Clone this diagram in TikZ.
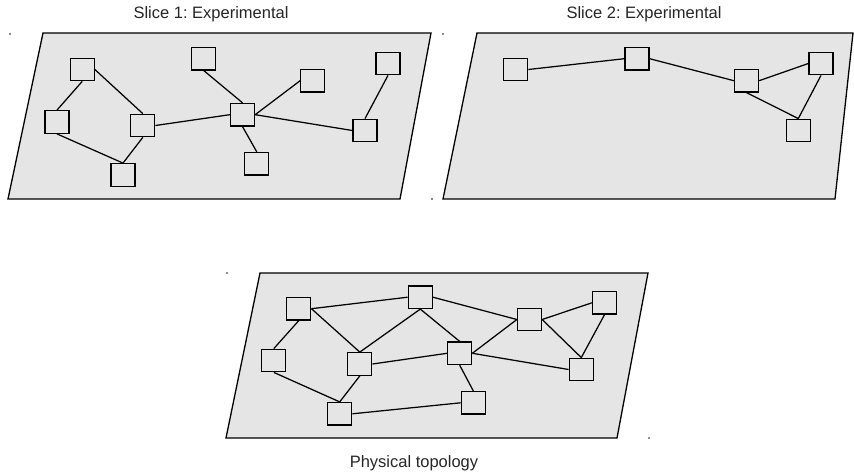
\documentclass[tikz,border=0pt]{standalone}
\usepackage{fontspec}
\setmainfont{Liberation Sans}
\frenchspacing
\begin{document}
\begin{tikzpicture}[x=1pt,y=-1pt,
  plane/.style={draw=black,fill=planegray,line width=1.3pt,line join=miter},
  router/.style={draw=black,fill=planegray,line width=1.3pt,minimum width=24pt,minimum height=22.5pt,inner sep=0pt},
  link/.style={draw=black,line width=1.25pt},
  caption/.style={anchor=base,font=\fontsize{16.5}{20}\selectfont,text=black!85},
  speck/.style={fill=black!45,minimum size=1.3pt,inner sep=0pt,draw=none}]
\definecolor{planegray}{RGB}{229,229,229}
\useasboundingbox (0,0) rectangle (854,473);

% captions
\node[caption] (t1) at (211,18.5) {Slice 1: Experimental};
\node[caption] (t2) at (644,18.5) {Slice 2: Experimental};
\node[caption] (t3) at (414,467) {Physical topology};

% planes
\draw[plane] (43,33) -- (431,33) -- (400,199) -- (8,199) -- cycle;
\draw[plane] (477,33) -- (853,33) -- (835,199) -- (443,199) -- cycle;
\draw[plane] (260,273) -- (648,273) -- (617,438) -- (226,438) -- cycle;

% small corner marks
\node[speck] (k1) at (10,34) {};
\node[speck] (k2) at (443,34) {};
\node[speck] (k3) at (432,199) {};
\node[speck] (k4) at (227,273) {};
\node[speck] (k5) at (649,438) {};

% slice 1
\node[router] (A) at (82.2,69.5) {};
\node[router] (B) at (57,122) {};
\node[router] (C) at (142.8,125.5) {};
\node[router] (D) at (123,175) {};
\node[router] (E) at (203.8,58.7) {};
\node[router] (F) at (242.5,114.7) {};
\node[router] (G) at (312.8,80.7) {};
\node[router] (H) at (256.8,163.8) {};
\node[router] (I) at (388,63.5) {};
\node[router] (J) at (365,130.5) {};
\draw[link] (A.south) -- (B.north);
\draw[link] (A.east) -- (C.north);
\draw[link] (B.south) -- (D.north);
\draw[link] (C.south) -- (D.north);
\draw[link] (C.east) -- (F.west);
\draw[link] (E.south) -- (F.north);
\draw[link] (F.east) -- (G.west);
\draw[link] (F.south) -- (H.north);
\draw[link] (F.east) -- (J.west);
\draw[link] (I.south) -- (J.north);

% slice 2
\node[router] (P) at (515.8,69.5) {};
\node[router] (Q) at (637,58.7) {};
\node[router] (R) at (746.5,80.7) {};
\node[router] (S) at (821,63.5) {};
\node[router] (T) at (798.3,130.5) {};
\draw[link] (P.east) -- (Q.west);
\draw[link] (Q.east) -- (R.west);
\draw[link] (R.east) -- (S.west);
\draw[link] (R.south) -- (T.north);
\draw[link] (S.south) -- (T.north);

% physical topology
\node[router] (a) at (298.8,308.7) {};
\node[router] (b) at (273.8,360.5) {};
\node[router] (c) at (359.8,364) {};
\node[router] (d) at (339.7,413.8) {};
\node[router] (e) at (420.3,297.2) {};
\node[router] (f) at (459.7,353.3) {};
\node[router] (g) at (473.3,402.8) {};
\node[router] (h) at (529.5,319.5) {};
\node[router] (i) at (604.5,302.8) {};
\node[router] (j) at (581.3,369.5) {};
\draw[link] (a.south) -- (b.north);
\draw[link] (a.east) -- (e.west);
\draw[link] (a.east) -- (c.north);
\draw[link] (b.south) -- (d.north);
\draw[link] (c.south) -- (d.north);
\draw[link] (c.east) -- (f.west);
\draw[link] (e.south) -- (c.north);
\draw[link] (e.south) -- (f.north);
\draw[link] (e.east) -- (h.west);
\draw[link] (f.east) -- (h.west);
\draw[link] (f.south) -- (g.north);
\draw[link] (f.east) -- (j.west);
\draw[link] (h.east) -- (i.west);
\draw[link] (h.east) -- (j.north);
\draw[link] (i.south) -- (j.north);
\draw[link] (d.east) -- (g.west);
\end{tikzpicture}
\end{document}
